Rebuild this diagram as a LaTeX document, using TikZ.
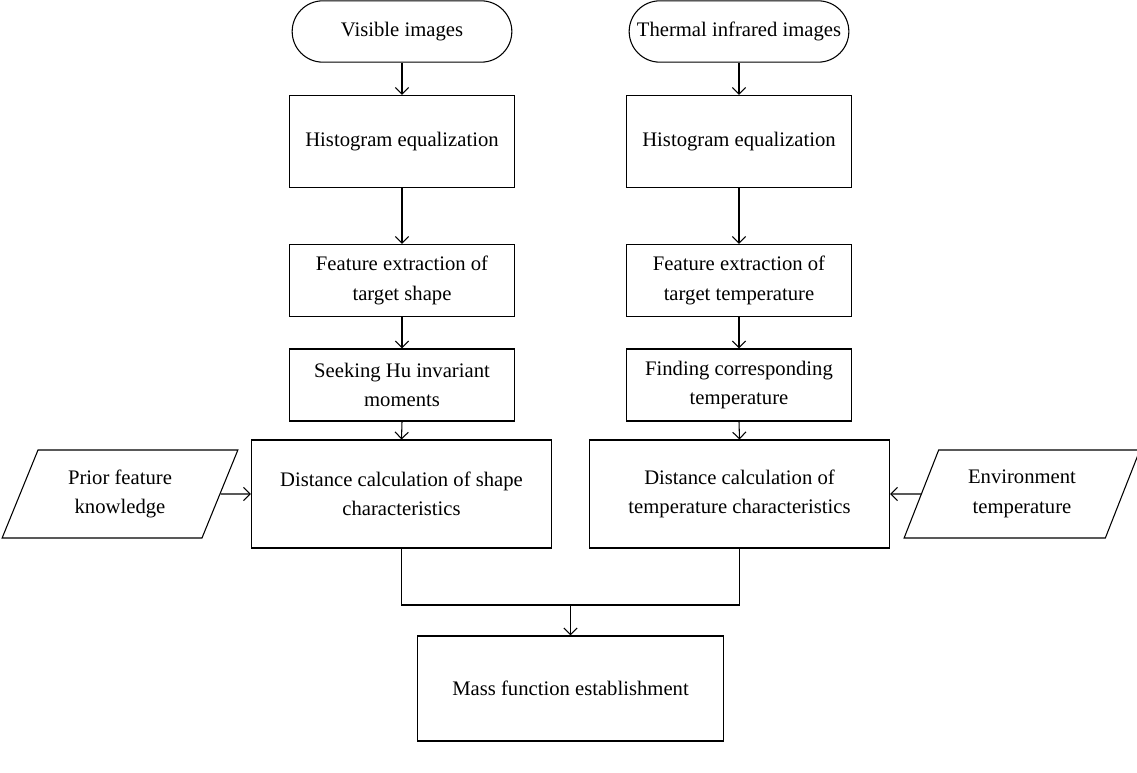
\documentclass[tikz,border=0pt]{standalone}
\usepackage{fontspec}
\setmainfont{Liberation Serif}
\usetikzlibrary{shapes.misc,shapes.geometric,arrows.meta}

\tikzset{
  flowline/.style={line width=0.8pt},
  flowarrow/.style={flowline, -{Straight Barb[length=5pt,width=10pt,line width=0.8pt]}},
  procbox/.style={draw, flowline, rectangle, align=center, inner sep=2pt,
    font=\fontsize{15.5}{22}\selectfont, minimum width=168.75pt},
  startbox/.style={procbox, rounded rectangle, minimum height=46pt},
  inputbox/.style={procbox, trapezium, trapezium left angle=66, trapezium right angle=114,
    trapezium stretches=true, minimum width=177pt, minimum height=66pt}
}

\begin{document}
\begin{tikzpicture}[x=0.75pt,y=-0.75pt]
  \useasboundingbox (0,0) rectangle (1137,773);

  % two input chains
  \node[startbox] (visstart) at (402,31.5) {Visible images};
  \node[startbox] (irstart) at (739,31.5) {Thermal infrared images};

  \node[procbox, minimum height=69pt] (vishist) at (402,141.5) {Histogram equalization};
  \node[procbox, minimum height=69pt] (irhist) at (739,141.5) {Histogram equalization};

  \node[procbox, minimum height=54pt] (visfeat) at (402,280.5) {Feature extraction of\\target shape};
  \node[procbox, minimum height=54pt] (irfeat) at (739,280.5) {Feature extraction of\\target temperature};

  \node[procbox, minimum height=54pt] (vishu) at (402,385) {Seeking Hu invariant\\moments};
  \node[procbox, minimum height=54pt] (irtemp) at (739,385) {Finding corresponding\\temperature};

  \node[procbox, minimum width=225pt, minimum height=81pt] (visdist) at (401.5,494) {Distance calculation of shape\\characteristics};
  \node[procbox, minimum width=225pt, minimum height=81pt] (irdist) at (739.5,494) {Distance calculation of\\temperature characteristics};

  \node[inputbox] (prior) at (120,494) {Prior feature\\knowledge};
  \node[inputbox] (envtemp) at (1022,494) {Environment\\temperature};

  \node[procbox, minimum width=230pt, minimum height=78.75pt] (mass) at (570.5,688.5) {Mass function establishment};

  \foreach \a/\b in {visstart/vishist, vishist/visfeat, visfeat/vishu, vishu/visdist,
                     irstart/irhist, irhist/irfeat, irfeat/irtemp, irtemp/irdist} {
    \draw[flowarrow] (\a.south) -- (\b.north);
  }
  \draw[flowarrow] (prior.east) -- (visdist.west);
  \draw[flowarrow] (envtemp.west) -- (irdist.east);

  % merge into the mass function
  \coordinate (merge) at (mass.north |- 0,605);
  \draw[flowline] (visdist.south) |- (merge) -| (irdist.south);
  \draw[flowarrow] (merge) -- (mass.north);
\end{tikzpicture}
\end{document}
